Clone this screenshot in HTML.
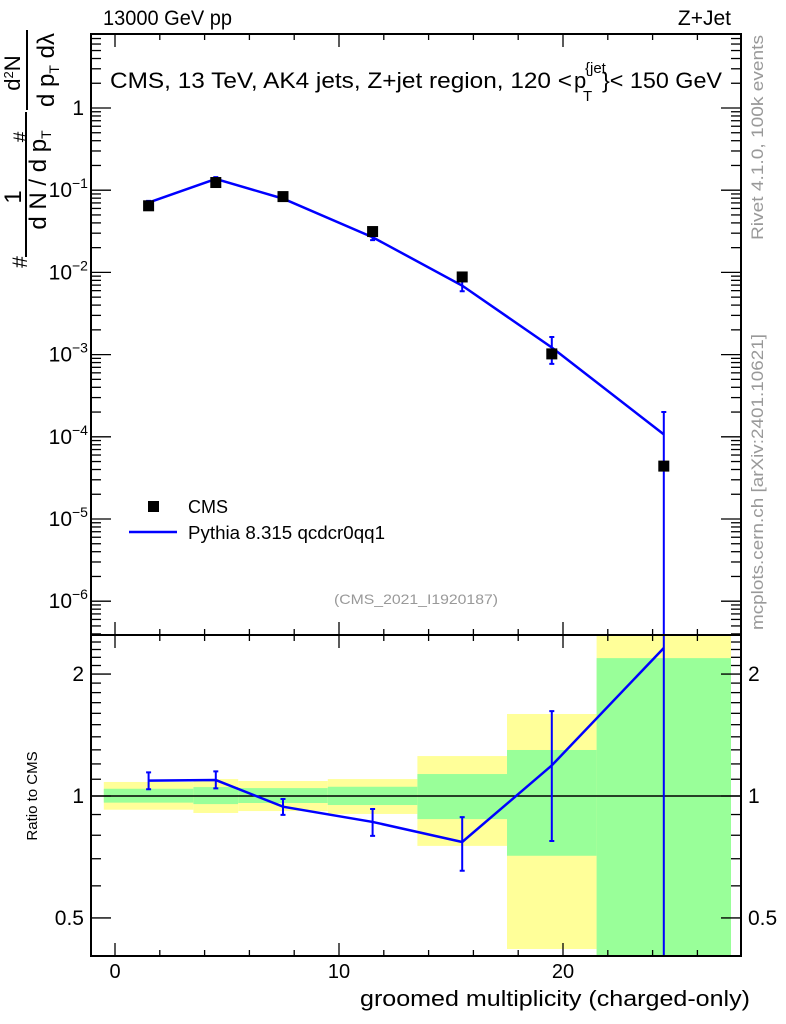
<!DOCTYPE html>
<html><head><meta charset="utf-8"><style>
html,body{margin:0;padding:0;background:#fff;width:786px;height:1024px;overflow:hidden;}
svg{display:block;font-family:"Liberation Sans",sans-serif;}
</style></head><body>
<svg id="chart" width="786" height="1024" viewBox="0 0 786 1024" xmlns="http://www.w3.org/2000/svg">
<defs>
<clipPath id="cMain"><rect x="91" y="34" width="650" height="601"/></clipPath>
<clipPath id="cRatio"><rect x="91" y="635" width="650" height="321"/></clipPath>
</defs>
<g id="bands" clip-path="url(#cRatio)"></g>
<g id="ratioMarks" clip-path="url(#cRatio)"></g>
<g id="mainMarks" clip-path="url(#cMain)"></g>
<g id="axes"></g>
<g>
<text x="103" y="25" font-size="21" textLength="129" lengthAdjust="spacingAndGlyphs">13000 GeV pp</text>
<text x="731" y="25" font-size="21" text-anchor="end">Z+Jet</text>
<g>
<text x="110" y="88" font-size="22" textLength="462" lengthAdjust="spacingAndGlyphs">CMS, 13 TeV, AK4 jets, Z+jet region, 120 &lt;</text>
<text x="574" y="88" font-size="22">p</text>
<text x="585" y="73" font-size="15">{jet</text>
<text x="583" y="101" font-size="15">T</text>
<text x="602" y="88" font-size="22" textLength="120" lengthAdjust="spacingAndGlyphs">}&lt; 150 GeV</text>
</g>
<rect x="148" y="501" width="11" height="11" fill="#000"/>
<text x="188" y="513" font-size="18">CMS</text>
<line x1="129" y1="532" x2="177" y2="532" stroke="#0000ff" stroke-width="2.5"/>
<text x="188" y="539" font-size="18" textLength="197" lengthAdjust="spacingAndGlyphs">Pythia 8.315 qcdcr0qq1</text>
<text x="334" y="604" font-size="14" fill="#999" textLength="164" lengthAdjust="spacingAndGlyphs">(CMS_2021_I1920187)</text>
<text transform="translate(763,240) rotate(-90)" font-size="17" fill="#999" textLength="205" lengthAdjust="spacingAndGlyphs">Rivet 4.1.0,  100k events</text>
<text transform="translate(763,630) rotate(-90)" font-size="17" fill="#999" textLength="296" lengthAdjust="spacingAndGlyphs">mcplots.cern.ch [arXiv:2401.10621]</text>
<text x="360" y="1006" font-size="22" textLength="390" lengthAdjust="spacingAndGlyphs">groomed multiplicity (charged-only)</text>
<text transform="translate(37,796) rotate(-90)" font-size="15" text-anchor="middle">Ratio to CMS</text>
<g>
<text transform="translate(27,262) rotate(-90)" font-size="21" text-anchor="middle">#</text>
<text transform="translate(21,197) rotate(-90)" font-size="24" text-anchor="middle">1</text>
<line x1="26" y1="112" x2="26" y2="257" stroke="#000" stroke-width="2"/>
<text transform="translate(46,180) rotate(-90)" font-size="24" text-anchor="middle">d N / d p<tspan font-size="14" dy="5">T</tspan></text>
<text transform="translate(27,137) rotate(-90)" font-size="19" text-anchor="middle">#</text>
<text transform="translate(20,73) rotate(-90)" font-size="22" text-anchor="middle">d<tspan font-size="13" dy="-7">2</tspan><tspan dy="7">N</tspan></text>
<line x1="27" y1="30" x2="27" y2="110" stroke="#000" stroke-width="2"/>
<text transform="translate(54,70) rotate(-90)" font-size="24" text-anchor="middle">d p<tspan font-size="14" dy="5">T</tspan><tspan dy="-5"> dλ</tspan></text>
</g>
</g>
</svg>
<script>
const categories = [1.5, 4.5, 7.5, 11.5, 15.5, 19.5, 24.5];
const binEdges = [-0.5, 3.5, 5.5, 9.5, 13.5, 17.5, 21.5, 27.5];
const cmsValues = [0.0646, 0.124, 0.0836, 0.0314, 0.0088, 0.00102, 0.000044];
const pythiaValues = [0.0707, 0.137, 0.079, 0.0268, 0.0069, 0.00122, 0.000107];
const pythiaHigh = [0.0742, 0.144, 0.0826, 0.0289, 0.0079, 0.00164, 0.0002];
const pythiaLow = [0.0672, 0.130, 0.0754, 0.0247, 0.0059, 0.00077, 0.0000001];
const ratioValues = [1.091, 1.095, 0.941, 0.863, 0.77, 1.19, 2.32];
const ratioHigh = [1.144, 1.15, 0.983, 0.929, 0.887, 1.62, 4.0];
const ratioLow = [1.039, 1.044, 0.898, 0.797, 0.654, 0.774, 0.01];
const yellowHigh = [1.083, 1.101, 1.089, 1.101, 1.255, 1.594, 3.0];
const yellowLow = [0.925, 0.908, 0.918, 0.903, 0.753, 0.419, 0.3];
const greenHigh = [1.042, 1.052, 1.046, 1.054, 1.133, 1.299, 2.19];
const greenLow = [0.963, 0.955, 0.961, 0.950, 0.877, 0.712, 0.3];
const xTicks = [0, 10, 20];
const mainTickLabels = ["1", "10", "10", "10", "10", "10", "10"];
const mainTickExp = ["", "\u22121", "\u22122", "\u22123", "\u22124", "\u22125", "\u22126"];
const ratioTicks = [0.5, 1, 2];

const NS = "http://www.w3.org/2000/svg";
const X = v => 115 + 22.4 * v;
const Y = v => 108 - 82.2 * Math.log10(v);
const R = v => 796 - 405 * Math.log10(v);
const L = 91, RT = 741, TOP = 34, MID = 635, BOT = 956;

function mk(parent, tag, attrs) {
  const e = document.createElementNS(NS, tag);
  for (const k in attrs) e.setAttribute(k, attrs[k]);
  parent.appendChild(e);
  return e;
}

const bands = document.getElementById('bands');
for (let i = 0; i < categories.length; i++) {
  const x0 = X(binEdges[i]), x1 = X(binEdges[i + 1]);
  const y = mk(bands, 'rect', {x: x0, y: R(yellowHigh[i]), width: x1 - x0, height: R(yellowLow[i]) - R(yellowHigh[i]), fill: '#ffff99'});
  
  
  const g = mk(bands, 'rect', {x: x0, y: R(greenHigh[i]), width: x1 - x0, height: R(greenLow[i]) - R(greenHigh[i]), fill: '#99ff99'});
  
  
}
const one = mk(bands, 'line', {x1: L, x2: RT, y1: R(1), y2: R(1), stroke: '#000', 'stroke-width': 1.5});



function series(parent, vals, hi, lo, fy, nm) {
  const pts = categories.map((c, i) => X(c) + ',' + fy(vals[i])).join(' ');
  const pl = mk(parent, 'polyline', {points: pts, fill: 'none', stroke: '#0000ff', 'stroke-width': 2.5});
  
  
  categories.forEach((c, i) => {
    const x = X(c), a = fy(hi[i]), b = fy(lo[i]);
    const eb = mk(parent, 'path', {d: `M${x},${a}V${b}M${x - 2.5},${a}h5M${x - 2.5},${b}h5`, stroke: '#0000ff', 'stroke-width': 2, fill: 'none'});
    
    
  });
}
const rm = document.getElementById('ratioMarks');
series(rm, ratioValues, ratioHigh, ratioLow, R, 'pythia-ratio');
const mm = document.getElementById('mainMarks');
series(mm, pythiaValues, pythiaHigh, pythiaLow, Y, 'pythia');
categories.forEach((c, i) => {
  const s = mk(mm, 'rect', {x: X(c) - 5.5, y: Y(cmsValues[i]) - 5.5, width: 11, height: 11, fill: '#000'});
  
  
});

const ax = document.getElementById('axes');
function ln(x1, y1, x2, y2, w) { mk(ax, 'line', {x1, y1, x2, y2, stroke: '#000', 'stroke-width': w || 1.3}); }
for (let v = -1; v <= 27; v++) {
  const x = X(v), major = v % 10 === 0, minor = v % 2 === 0;
  if (!minor && !major) continue;
  const len = major ? 13 : 6;
  [TOP, MID].forEach(y => ln(x, y, x, y + len));
  [MID, BOT].forEach(y => ln(x, y, x, y - len));
}
xTicks.forEach(v => {
  const t = mk(ax, 'text', {x: X(v), y: 978, 'font-size': 20, 'text-anchor': 'middle'});
  t.textContent = v;
  
  
});
for (let d = 0; d >= -7; d--) {
  for (let m = 1; m <= 9; m++) {
    const v = m * Math.pow(10, d), y = Y(v);
    if (y < TOP || y > MID) continue;
    const len = m === 1 ? 20 : 10;
    ln(L, y, L + len, y); ln(RT, y, RT - len, y);
  }
}
mainTickLabels.forEach((lab, i) => {
  const y = Y(Math.pow(10, -i));
  const t = mk(ax, 'text', {x: i === 0 ? 84 : 72, y: y + 7, 'font-size': 21, 'text-anchor': 'end'});
  t.textContent = lab;
  
  
  if (mainTickExp[i]) {
    const e = mk(ax, 'text', {x: 72, y: y - 2, 'font-size': 14});
    e.textContent = mainTickExp[i];
    
    
  }
});
for (let k = 3; k <= 25; k++) {
  const v = k / 10, y = R(v);
  if (y < MID || y > BOT) continue;
  const len = (v === 0.5 || v === 1 || v === 2) ? 20 : 10;
  ln(L, y, L + len, y); ln(RT, y, RT - len, y);
}
ratioTicks.forEach(v => {
  const t1 = mk(ax, 'text', {x: 84, y: R(v) + 7, 'font-size': 21, 'text-anchor': 'end'});
  t1.textContent = v;
  
  
  const t2 = mk(ax, 'text', {x: 748, y: R(v) + 7, 'font-size': 21});
  t2.textContent = v;
  
  
});
mk(ax, 'rect', {x: L, y: TOP, width: RT - L, height: BOT - TOP, fill: 'none', stroke: '#000', 'stroke-width': 2});
ln(L, MID, RT, MID, 2);
</script>
</body></html>
